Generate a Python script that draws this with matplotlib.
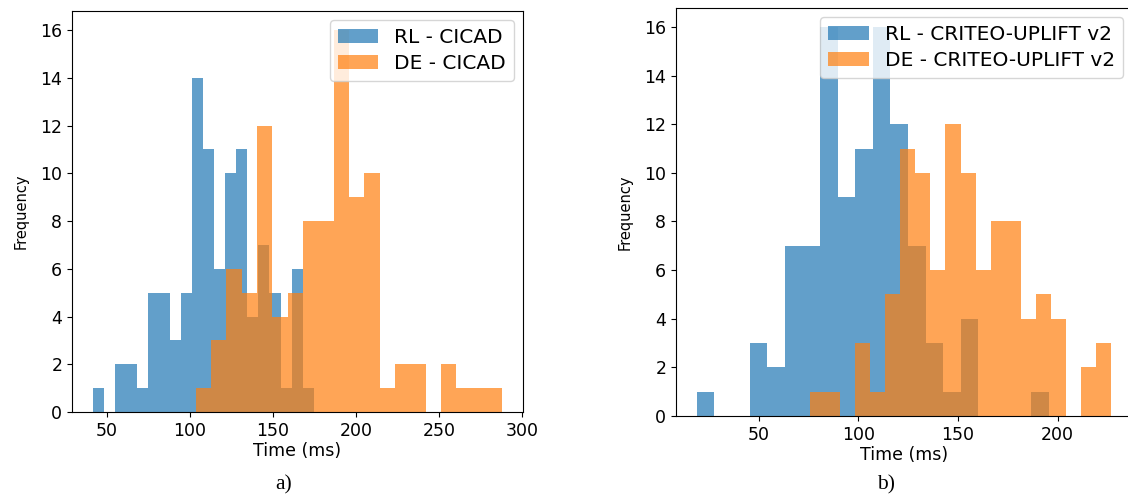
import numpy as np
import matplotlib
matplotlib.use("Agg")
import matplotlib.pyplot as plt

# ---- data (bin counts) ----
n_bins = 20
rl_cicad_counts = [1, 0, 2, 2, 1, 5, 5, 3, 5, 14, 11, 6, 10, 11, 4, 7, 5, 1, 6, 1]
rl_cicad_range = (41.4, 174.6)
de_cicad_counts = [1, 3, 6, 5, 12, 4, 5, 8, 8, 16, 9, 10, 1, 2, 2, 0, 2, 1, 1, 1]
de_cicad_range = (103.6, 288.3)

rl_criteo_counts = [1, 0, 0, 3, 2, 7, 7, 16, 9, 11, 16, 12, 7, 3, 1, 4, 0, 0, 0, 1]
rl_criteo_range = (18.8, 195.6)
de_criteo_counts = [1, 1, 0, 3, 1, 5, 11, 10, 6, 12, 10, 6, 8, 8, 4, 5, 4, 0, 2, 3]
de_criteo_range = (75.6, 227.0)

labels_a = ["RL - CICAD", "DE - CICAD"]
labels_b = ["RL - CRITEO-UPLIFT v2", "DE - CRITEO-UPLIFT v2"]
captions = ["a)", "b)"]

W, H = 1128, 497
fig = plt.figure(figsize=(W / 100, H / 100), dpi=100)

def px_axes(left, right, top, bottom):
    return fig.add_axes([left / W, 1 - bottom / H, (right - left) / W, (bottom - top) / H])

ax1 = px_axes(72, 523, 11, 412)
ax2 = px_axes(676, 1132, 7.5, 416)

def draw(ax, rl_counts, rl_range, de_counts, de_range, labels):
    for counts, rng, color, lab in [(rl_counts, rl_range, "#1f77b4", labels[0]),
                                    (de_counts, de_range, "#ff7f0e", labels[1])]:
        edges = np.linspace(rng[0], rng[1], n_bins + 1)
        centers = (edges[:-1] + edges[1:]) / 2
        ax.hist(centers, bins=edges, weights=counts, alpha=0.7, color=color, label=lab)
    ax.set_xlabel("Time (ms)", fontsize=12.5, labelpad=2)
    ax.set_ylabel("Frequency", fontsize=10.5, labelpad=8.5)
    ax.set_yticks(range(0, 17, 2))
    ax.tick_params(labelsize=12.5)
    ax.legend(loc="upper right", fontsize=14.5, handlelength=2.0,
              borderaxespad=0.45, labelspacing=0.35)

draw(ax1, rl_cicad_counts, rl_cicad_range, de_cicad_counts, de_cicad_range, labels_a)
draw(ax2, rl_criteo_counts, rl_criteo_range, de_criteo_counts, de_criteo_range, labels_b)

fig.text(284 / W, 1 - 485 / H, captions[0], ha="center", va="center",
         fontsize=15.5, family="Liberation Serif")
fig.text(886 / W, 1 - 485 / H, captions[1], ha="center", va="center",
         fontsize=15.5, family="Liberation Serif")

fig.savefig("out.png", dpi=100)
